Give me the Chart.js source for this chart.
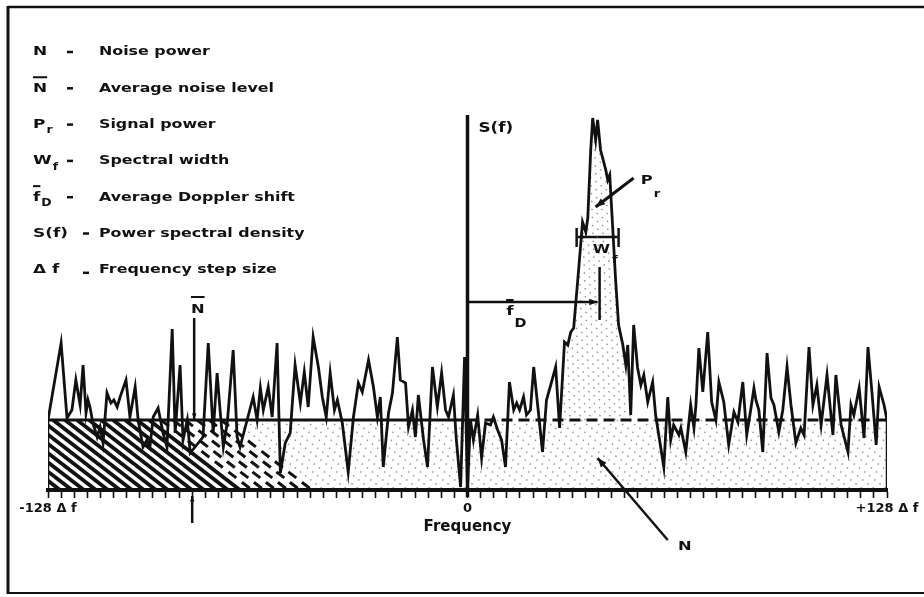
<!DOCTYPE html>
<html>
<head>
<meta charset="utf-8">
<script src="https://cdn.jsdelivr.net/npm/chart.js@4"></script>
<style>
  html, body { margin: 0; padding: 0; background: #fff; }
  #wrap { position: relative; width: 924px; height: 597px; }
</style>
</head>
<body>
<div id="wrap"><canvas id="spectrum" width="924" height="597"></canvas></div>
<script>
// Doppler power spectrum, frequency in steps of Δf (-128 .. +128)
const FREQ_BINS = [
  -128.0, -124.0, -122.2, -120.7, -119.5, -118.2, -117.3, -116.4, -115.8, -115.2,
  -114.3, -113.0, -112.1, -111.2, -110.0, -108.8, -107.9, -106.9, -106.0, -104.2,
  -103.0, -101.4, -100.5, -99.0, -97.8, -96.9, -95.9, -94.4, -92.9, -91.7,
  -90.1, -89.2, -87.7, -86.8, -85.5, -84.6, -80.7, -79.1, -77.6, -76.4,
  -75.5, -74.5, -73.3, -71.5, -70.3, -69.4, -67.8, -65.4, -64.2, -63.2,
  -62.3, -60.8, -59.6, -58.1, -57.1, -55.6, -54.1, -52.6, -51.0, -49.8,
  -48.6, -47.1, -45.5, -44.3, -43.1, -41.9, -40.6, -39.7, -38.2, -36.4,
  -34.8, -33.3, -32.1, -30.2, -28.7, -27.5, -26.6, -25.7, -24.1, -22.9,
  -21.4, -20.5, -18.9, -18.0, -16.8, -15.9, -15.0, -13.4, -12.2, -10.7,
  -9.2, -7.9, -6.7, -5.8, -4.3, -3.4, -2.1, -0.9, 0.0,
  0.9, 1.8, 3.1, 4.3, 5.5, 7.0, 7.9, 9.2, 10.4, 11.6,
  12.8, 14.1, 15.0, 15.9, 17.1, 18.0, 19.2, 20.2, 21.4, 22.9,
  24.1, 25.4, 26.9, 28.1, 29.6, 30.6, 31.5, 32.4, 33.9, 35.1,
  36.1, 36.7, 37.6, 38.2, 39.1, 39.7, 40.6, 42.2, 42.8, 43.4,
  44.0, 45.2, 46.1, 47.4, 48.3, 48.9, 49.8, 50.7, 51.9, 52.9,
  53.8, 55.0, 56.5, 57.4, 59.9, 61.1, 62.0, 62.9, 64.5, 65.1,
  66.6, 68.1, 69.1, 69.7, 70.6, 71.8, 73.3, 74.5, 75.8, 76.7,
  78.2, 79.7, 81.3, 82.5, 84.0, 85.2, 86.5, 87.4, 88.0, 88.9,
  90.1, 91.4, 92.6, 93.5, 95.0, 96.2, 97.5, 98.7, 100.2, 101.7,
  102.7, 104.2, 105.4, 106.6, 107.9, 109.7, 111.5, 112.4, 114.0, 116.1,
  117.0, 117.9, 119.5, 121.0, 122.2, 123.4, 124.7, 125.6, 127.1, 128.0
];
const POWER = [
  7.0, 14.7, 7.2, 8.0, 11.0, 8.5, 12.5, 7.7, 9.0, 8.3,
  6.7, 5.3, 6.3, 4.7, 9.7, 8.7, 9.0, 8.3, 9.3, 11.0,
  7.3, 10.3, 7.0, 4.3, 5.0, 4.3, 7.3, 8.2, 5.7, 4.3,
  16.1, 5.7, 12.5, 5.0, 7.0, 3.7, 5.3, 14.7, 5.7, 11.7,
  8.0, 4.3, 6.7, 14.0, 5.3, 4.3, 6.3, 9.3, 7.0, 10.2,
  8.0, 10.3, 7.3, 14.7, 1.7, 4.7, 5.7, 12.5, 8.7, 11.8,
  8.3, 15.3, 12.3, 9.3, 7.3, 11.7, 8.0, 9.0, 6.7, 1.8,
  7.3, 10.7, 9.8, 13.0, 10.3, 7.3, 9.3, 2.3, 7.7, 9.7,
  15.3, 11.0, 10.7, 6.3, 8.0, 5.3, 9.5, 5.0, 2.3, 12.3,
  8.3, 11.7, 8.0, 7.3, 9.5, 5.0, 0.3, 13.3, 0.2,
  7.0, 5.0, 7.5, 3.2, 6.7, 6.5, 7.3, 6.0, 5.0, 2.3,
  10.8, 8.0, 8.7, 8.0, 9.3, 7.5, 8.0, 12.3, 8.5, 3.8,
  9.0, 10.5, 12.3, 6.2, 14.8, 14.5, 15.8, 16.2, 22.0, 26.8,
  25.8, 27.2, 34.0, 37.2, 35.0, 37.0, 34.0, 32.0, 31.0, 31.5,
  28.0, 21.0, 16.5, 14.5, 12.5, 14.5, 7.5, 16.5, 12.2, 10.5,
  11.5, 8.8, 10.8, 7.5, 2.3, 9.3, 5.0, 6.5, 5.5, 6.2,
  3.8, 8.5, 6.2, 8.5, 14.2, 9.8, 15.8, 8.8, 7.0, 10.8,
  8.8, 4.5, 7.8, 6.8, 10.8, 5.5, 8.2, 10.2, 9.0, 8.0,
  3.8, 13.7, 9.2, 8.5, 5.8, 8.0, 12.3, 8.5, 4.7, 6.2,
  5.5, 14.3, 8.5, 10.5, 6.5, 11.5, 5.5, 11.5, 6.5, 3.8,
  8.5, 7.5, 10.2, 5.2, 14.3, 9.8, 4.5, 10.3, 8.5, 7.0
];
const NOISE_LEVEL = 7;          // N-bar
const MEAN_DOPPLER = 40;        // f-bar D
const WIDTH_RANGE = [33.3, 46.1];
const PEAK_RANGE = [26.9, 49.8];
const TICK_STEP = 4;
const LABELED_TICKS = [-128, 0, 128];
const TICK_TEXT = ['-128 Δ f', '0', '+128 Δ f'];

const LEGEND_MAIN = ['N', 'N', 'P', 'W', 'f', 'S(f)', 'Δ f'];
const LEGEND_SUB = ['', '', 'r', 'f', 'D', '', ''];
const LEGEND_BAR = [false, true, false, false, true, false, false];
const LEGEND_TEXT = ['Noise power', 'Average noise level', 'Signal power', 'Spectral width',
  'Average Doppler shift', 'Power spectral density', 'Frequency step size'];

const INK = '#111';
const FONT = '"DejaVu Sans", "Liberation Sans", sans-serif';

// bold text, stretched a little sideways like the old typeface
function label(ctx, s, x, y, size, hs = 1.15, align = 'left') {
  ctx.save();
  ctx.font = `bold ${size}px ${FONT}`;
  ctx.textBaseline = 'middle';
  ctx.fillStyle = INK;
  const w = ctx.measureText(s).width * hs;
  const x0 = align === 'center' ? x - w / 2 : x;
  ctx.translate(x0, y);
  ctx.scale(hs, 1);
  ctx.fillText(s, 0, 0);
  ctx.restore();
  return w;
}

function line(ctx, x1, y1, x2, y2, w = 2.5) {
  ctx.lineWidth = w;
  ctx.beginPath(); ctx.moveTo(x1, y1); ctx.lineTo(x2, y2); ctx.stroke();
}

function arrow(ctx, x1, y1, x2, y2, head = 9, w = 2.5) {
  line(ctx, x1, y1, x2, y2, w);
  const a = Math.atan2(y2 - y1, x2 - x1);
  ctx.beginPath();
  ctx.moveTo(x2, y2);
  ctx.lineTo(x2 - head * Math.cos(a - 0.38), y2 - head * Math.sin(a - 0.38));
  ctx.lineTo(x2 - head * Math.cos(a + 0.38), y2 - head * Math.sin(a + 0.38));
  ctx.closePath();
  ctx.fill();
}

function symbol(ctx, i, x, y, size) {
  const w = label(ctx, LEGEND_MAIN[i], x, y, size, 1.3);
  if (LEGEND_SUB[i]) label(ctx, LEGEND_SUB[i], x + w + 1, y + 6, size * 0.8, 1.2);
  if (LEGEND_BAR[i]) line(ctx, x, y - size * 0.85, x + w, y - size * 0.85, 2);
}

// diagonal hatch lines "\" across a region, style picked per line
function hatch(ctx, x0, x1, top, bot, gap, styleFor) {
  const run = (bot - top) * 1.3;
  for (let xs = x0 - run; xs <= x1; xs += gap) {
    const st = styleFor(xs + run / 2);
    ctx.strokeStyle = st.color;
    ctx.lineWidth = st.width;
    ctx.setLineDash(st.dash);
    ctx.beginPath(); ctx.moveTo(xs, top); ctx.lineTo(xs + run, bot); ctx.stroke();
  }
  ctx.setLineDash([]);
}

const STIPPLE = { color: 'rgba(40,40,40,0.5)', width: 1.4, dash: [1.5, 5] };

const shading = {
  id: 'shading',
  beforeDatasetsDraw(chart) {
    const { ctx, scales: { x, y } } = chart;
    const left = x.getPixelForValue(-128), right = x.getPixelForValue(128);
    const top = y.getPixelForValue(NOISE_LEVEL), bot = y.getPixelForValue(0);
    const solidEnd = x.getPixelForValue(-80), dashEnd = x.getPixelForValue(-58);

    ctx.save();
    ctx.beginPath(); ctx.rect(left, top, right - left, bot - top); ctx.clip();
    hatch(ctx, left, right, top, bot, 12, m => {
      if (m < solidEnd) return { color: INK, width: 3.8, dash: [] };
      if (m < dashEnd) return { color: INK, width: 3, dash: [10, 7] };
      return STIPPLE;
    });
    ctx.restore();

    // signal power area above the noise level
    ctx.save();
    ctx.beginPath();
    ctx.moveTo(x.getPixelForValue(PEAK_RANGE[0]), top);
    FREQ_BINS.forEach((f, i) => {
      if (f >= PEAK_RANGE[0] && f <= PEAK_RANGE[1]) ctx.lineTo(x.getPixelForValue(f), y.getPixelForValue(POWER[i]));
    });
    ctx.lineTo(x.getPixelForValue(PEAK_RANGE[1]), top);
    ctx.closePath();
    ctx.clip();
    hatch(ctx, x.getPixelForValue(PEAK_RANGE[0]), x.getPixelForValue(PEAK_RANGE[1]),
      y.getPixelForValue(38), top, 10, () => STIPPLE);
    ctx.restore();
  },
  afterDatasetsDraw(chart) {
    const { ctx, scales: { x, y } } = chart;
    const px = v => x.getPixelForValue(v), py = v => y.getPixelForValue(v);
    ctx.save();
    ctx.strokeStyle = INK; ctx.fillStyle = INK;

    // S(f) axis label
    label(ctx, 'S(f)', px(0) + 11, py(36.2), 14, 1.2);

    // N-bar marker
    arrow(ctx, px(-83.4), py(17.2), px(-83.4), py(NOISE_LEVEL) - 1, 6, 2.5);
    const nw = label(ctx, 'N', px(-82.3), py(18.0), 13, 1.25, 'center');
    line(ctx, px(-82.3) - nw / 2, py(19.3), px(-82.3) + nw / 2, py(19.3), 2);
    // arrow under the axis pointing at the same bin
    arrow(ctx, px(-84), py(-3.3), px(-84), py(-0.6), 6, 2.5);

    // mean Doppler shift
    arrow(ctx, px(0), py(18.8), px(MEAN_DOPPLER) - 1, py(18.8), 9, 2.5);
    line(ctx, px(MEAN_DOPPLER) + 1, py(22.3), px(MEAN_DOPPLER) + 1, py(17.0), 2.5);
    const fw = label(ctx, 'f', px(11.8), py(17.8), 13, 1.3);
    line(ctx, px(11.8), py(19.0), px(11.8) + fw, py(19.0), 2);
    label(ctx, 'D', px(11.8) + fw + 1, py(16.6), 12, 1.2);

    // spectral width bracket
    const wy = py(25.3), wl = px(WIDTH_RANGE[0]), wr = px(WIDTH_RANGE[1]);
    arrow(ctx, (wl + wr) / 2, wy, wl + 1, wy, 6, 2.5);
    arrow(ctx, (wl + wr) / 2, wy, wr - 1, wy, 6, 2.5);
    line(ctx, wl, py(26.2), wl, py(24.3), 2.5);
    line(ctx, wr, py(26.2), wr, py(24.3), 2.5);
    const ww = label(ctx, 'W', px(38.2), py(24.0), 13, 1.2);
    label(ctx, 'f', px(38.2) + ww + 2, py(23.0), 11, 1.2);

    // signal power
    arrow(ctx, px(50.7), py(31.2), px(39.1), py(28.3), 10, 3);
    const pw = label(ctx, 'P', px(52.9), py(30.9), 13, 1.25);
    label(ctx, 'r', px(52.9) + pw + 1, py(29.6), 11, 1.2);

    // noise power
    arrow(ctx, px(61.1), py(-5.0), px(39.7), py(3.2), 10, 2.5);
    label(ctx, 'N', px(64.2), py(-5.7), 13, 1.25);
    ctx.restore();
  },
  afterDraw(chart) {
    const { ctx } = chart;
    ctx.save();
    ctx.strokeStyle = INK; ctx.fillStyle = INK;
    // outer frame (right edge falls off the scan)
    line(ctx, 8, 7, 924, 7, 2.5);
    line(ctx, 8, 6, 8, 594, 3);
    line(ctx, 8, 593, 924, 593, 2);
    // definitions block
    LEGEND_TEXT.forEach((t, i) => {
      const yy = 52 + i * 36.3;
      symbol(ctx, i, 33, yy, 13);
      const dashX = i >= 5 ? 83 : 67;
      line(ctx, dashX, yy + (i === 6 ? 3 : 0), dashX + 6, yy + (i === 6 ? 3 : 0), 2.5);
      label(ctx, t, 99, yy, 13, 1.22);
    });
    ctx.restore();
  }
};

const trace = FREQ_BINS.map((f, i) => ({ x: f, y: POWER[i] }));

new Chart(document.getElementById('spectrum'), {
  type: 'line',
  data: {
    datasets: [
      {
        data: trace,
        borderColor: INK,
        borderWidth: 2.8,
        pointRadius: 0,
        tension: 0
      },
      {
        // average noise level, solid on the left, dashed on the right
        data: [{ x: -128, y: NOISE_LEVEL }, { x: 0, y: NOISE_LEVEL }, { x: 128, y: NOISE_LEVEL }],
        borderColor: INK,
        borderWidth: 2.8,
        pointRadius: 0,
        segment: { borderDash: c => (c.p0.parsed.x < 0 ? undefined : [11, 6]) }
      },
      {
        // box edges at the band limits
        data: [{ x: -128, y: 0 }, { x: -128, y: NOISE_LEVEL }, { x: 0, y: null },
               { x: 128, y: NOISE_LEVEL }, { x: 128, y: 0 }],
        borderColor: INK,
        borderWidth: 2.5,
        pointRadius: 0,
        spanGaps: false
      },
      {
        // S(f) axis at zero frequency
        data: [{ x: 0, y: -0.7 }, { x: 0, y: 37.5 }],
        borderColor: INK,
        borderWidth: 3.5,
        pointRadius: 0,
        clip: false
      }
    ]
  },
  options: {
    responsive: false,
    animation: false,
    events: [],
    layout: { padding: { left: 48, right: 37, top: 110, bottom: 47 } },
    plugins: { legend: { display: false }, tooltip: { enabled: false } },
    scales: {
      x: {
        type: 'linear',
        min: -128,
        max: 128,
        afterFit(scale) { scale.height = 60; },
        border: { display: true, color: INK, width: 4 },
        grid: { drawOnChartArea: false, drawTicks: true, tickLength: 8, tickWidth: 1.6, tickColor: INK },
        ticks: {
          stepSize: TICK_STEP,
          autoSkip: false,
          maxRotation: 0,
          padding: 3,
          color: INK,
          font: { family: FONT, weight: 'bold', size: 13 },
          callback: v => {
            const i = LABELED_TICKS.indexOf(v);
            return i >= 0 ? TICK_TEXT[i] : '';
          }
        },
        title: {
          display: true,
          text: 'Frequency',
          color: INK,
          font: { family: FONT, weight: 'bold', size: 15 },
          padding: { top: 0, bottom: 14 }
        }
      },
      y: { display: false, min: 0, max: 38 }
    }
  },
  plugins: [shading]
});
</script>
</body>
</html>
